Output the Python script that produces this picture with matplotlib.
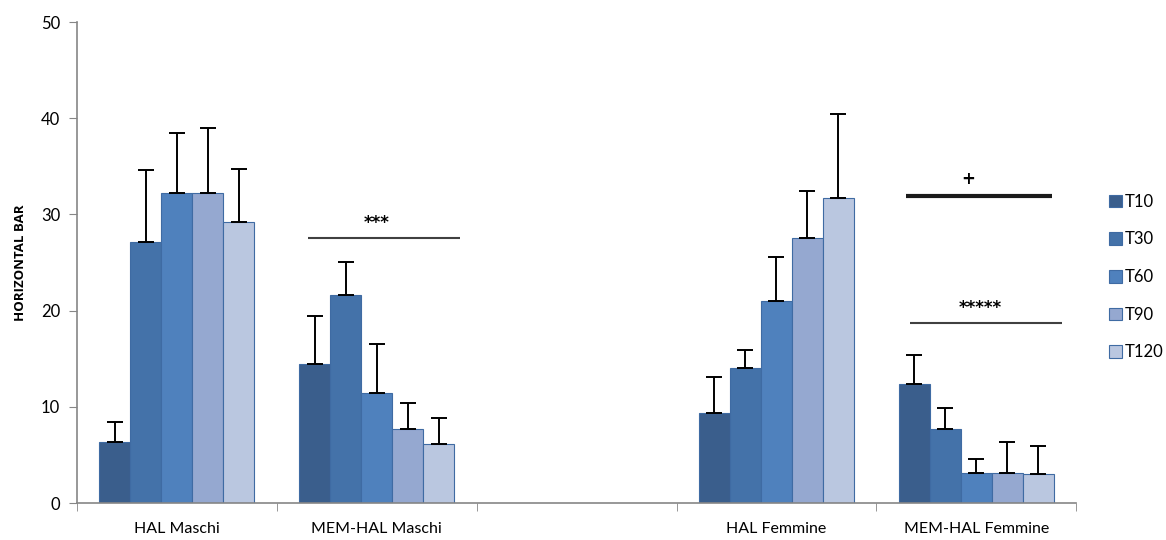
import numpy as np
import matplotlib
matplotlib.use("Agg")
import matplotlib.pyplot as plt

# data
groups = ["HAL Maschi", "MEM-HAL Maschi", "", "HAL Femmine", "MEM-HAL Femmine"]
series = ["T10", "T30", "T60", "T90", "T120"]

t10 = [6.3, 14.4, 0, 9.4, 12.4]
t30 = [27.1, 21.6, 0, 14.0, 7.7]
t60 = [32.2, 11.4, 0, 21.0, 3.1]
t90 = [32.2, 7.7, 0, 27.5, 3.1]
t120 = [29.2, 6.1, 0, 31.7, 3.0]

# upper end of the error bars
t10_top = [8.4, 19.4, 0, 13.1, 15.4]
t30_top = [34.6, 25.1, 0, 15.9, 9.9]
t60_top = [38.5, 16.5, 0, 25.6, 4.6]
t90_top = [39.0, 10.4, 0, 32.4, 6.3]
t120_top = [34.7, 8.8, 0, 40.4, 5.9]

colors = ["#3A5E8C", "#4472A9", "#4F81BD", "#95A8D0", "#BAC7E0"]

plt.rcParams["font.family"] = ["Lato", "DejaVu Sans"]

fig = plt.figure(figsize=(11.66, 5.4), dpi=100)
ax = fig.add_axes([0.066, 0.0685, 0.857, 0.8907])

x = np.arange(len(groups))
width = 0.155
values = [t10, t30, t60, t90, t120]
tops = [t10_top, t30_top, t60_top, t90_top, t120_top]

for i, (name, vals, top) in enumerate(zip(series, values, tops)):
    vals = np.array(vals, dtype=float)
    top = np.array(top, dtype=float)
    keep = vals > 0
    pos = x[keep] + (i - 2) * width
    ax.bar(pos, vals[keep], width, color=colors[i], edgecolor="#3F6BA3",
           linewidth=0.8, label=name, zorder=2)
    err = top[keep] - vals[keep]
    ax.errorbar(pos, vals[keep], yerr=[np.zeros_like(err), err], fmt="none",
                ecolor="black", elinewidth=1.4, capsize=6, capthick=1.4, zorder=3)

# significance marks
star = dict(ha="center", va="center", fontsize=12, fontweight="bold",
            family="DejaVu Sans")
ax.hlines(27.5, 0.655, 1.417, color="#404040", lw=1.5)
ax.text(1.0, 29.1, "***", **star)
ax.hlines(31.95, 3.65, 4.38, color="#1A1A1A", lw=3)
ax.text(3.96, 33.7, "+", **star)
ax.hlines(18.7, 3.67, 4.43, color="#404040", lw=1.5)
ax.text(4.02, 20.3, "*****", **star)

ax.set_xlim(-0.5, len(groups) - 0.5)
ax.set_ylim(0, 50)
ax.set_yticks(np.arange(0, 51, 10))
ax.set_xticks(x)
ax.set_xticklabels(groups, fontsize=11.5)
ax.set_xticks(np.arange(-0.5, len(groups)), minor=True)
ax.tick_params(axis="x", which="major", length=0, pad=14)
ax.tick_params(axis="x", which="minor", length=6, color="#868686", direction="out")
ax.tick_params(axis="y", length=6, color="#868686", labelsize=12, pad=6)

for s in ["top", "right"]:
    ax.spines[s].set_visible(False)
for s in ["left", "bottom"]:
    ax.spines[s].set_color("#868686")
    ax.spines[s].set_linewidth(1.2)

ax.set_ylabel("HORIZONTAL BAR", fontsize=9.5, fontweight="bold",
              family="Open Sans", labelpad=10)

fig.legend(loc="center left", bbox_to_anchor=(0.945, 0.487), frameon=False,
           fontsize=12, handlelength=0.8, handleheight=0.8, handletextpad=0.2,
           labelspacing=1.3, borderaxespad=0)

fig.savefig("out.png", dpi=100)
